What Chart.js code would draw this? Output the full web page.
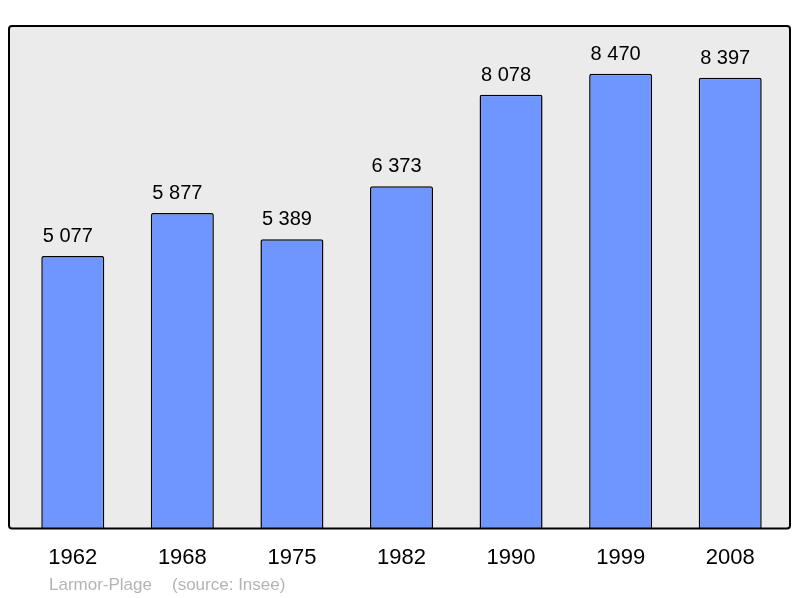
<!DOCTYPE html>
<html>
<head>
<meta charset="utf-8">
<script src="https://cdn.jsdelivr.net/npm/chart.js@4/dist/chart.umd.min.js"></script>
<style>
  html, body { margin: 0; padding: 0; background: #fff; }
  #wrap { width: 800px; height: 598px; position: relative; }
</style>
</head>
<body>
<div id="wrap"><canvas id="popChart"></canvas></div>
<script>
// Population chart - Larmor-Plage

const years = ["1962", "1968", "1975", "1982", "1990", "1999", "2008"];
const population = [5077, 5877, 5389, 6373, 8078, 8470, 8397];
const footerTown = "Larmor-Plage";
const footerSource = "(source: Insee)";

const theme = {
    bar: "#6f96ff",
    edge: "#000000",
    panel: "#ebebeb",
    footer: "#b4b4b4"
};

const fontFamily = "'Liberation Sans', Arial, sans-serif";

// "5 077" style numbers
const fmt = v => String(v).replace(/\B(?=(\d{3})+(?!\d))/g, " ");

const panelPlugin = {
    id: "panel",
    beforeDraw(chart) {
        const c = chart.ctx;
        const a = chart.chartArea;
        const x0 = 9, y0 = a.top - 1, x1 = 790, y1 = a.bottom;
        c.save();
        c.beginPath();
        c.roundRect(x0, y0, x1 - x0, y1 - y0, 3);
        c.fillStyle = theme.panel;
        c.fill();
        c.restore();
    },
    afterDatasetsDraw(chart) {
        const c = chart.ctx;
        const a = chart.chartArea;
        const x0 = 9, y0 = a.top - 1, x1 = 790, y1 = a.bottom;
        c.save();
        c.beginPath();
        c.roundRect(x0, y0, x1 - x0, y1 - y0, 3);
        c.lineWidth = 2;
        c.strokeStyle = theme.edge;
        c.stroke();

        // value labels above bars (sit a little left of centre)
        const meta = chart.getDatasetMeta(0);
        c.fillStyle = "#000";
        c.font = "20px " + fontFamily;
        c.textAlign = "center";
        c.textBaseline = "alphabetic";
        meta.data.forEach((bar, i) => {
            c.fillText(fmt(population[i]), bar.x - 5, bar.y - 14);
        });

        // footer
        c.fillStyle = theme.footer;
        c.font = "17px " + fontFamily;
        c.textAlign = "left";
        c.fillText(footerTown, 49, 590);
        c.fillText(footerSource, 172, 590);
        c.restore();
    }
};

new Chart(document.getElementById("popChart"), {
    type: "bar",
    data: {
        labels: years,
        datasets: [{
            data: population,
            backgroundColor: theme.bar,
            borderColor: theme.edge,
            borderWidth: 1.5,
            borderSkipped: "bottom",
            borderRadius: 2,
            barPercentage: 0.575,
            categoryPercentage: 1
        }]
    },
    options: {
        responsive: true,
        maintainAspectRatio: false,
        animation: false,
        events: [],
        layout: {
            padding: { left: 18, right: 15, top: 27, bottom: 11 }
        },
        plugins: {
            legend: { display: false },
            tooltip: { enabled: false }
        },
        scales: {
            x: {
                grid: { display: false, drawTicks: false },
                border: { display: false },
                ticks: {
                    color: "#000",
                    font: { family: fontFamily, size: 22 },
                    padding: 16
                }
            },
            y: {
                display: false,
                min: 0,
                max: 9340
            }
        }
    },
    plugins: [panelPlugin]
});
</script>
</body>
</html>
